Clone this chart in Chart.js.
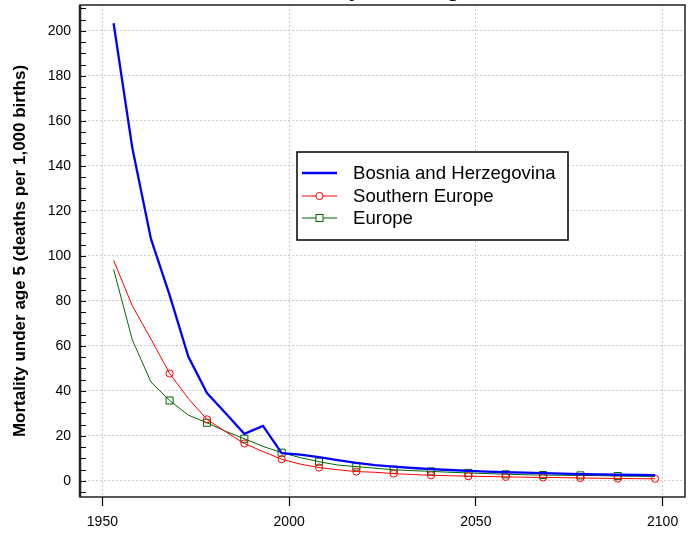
<!DOCTYPE html>
<html>
<head>
<meta charset="utf-8">
<script src="https://cdn.jsdelivr.net/npm/chart.js@4/dist/chart.umd.min.js"></script>
<style>
    html, body { margin: 0; padding: 0; background: #fff; }
    #wrap { width: 697px; height: 535px; overflow: hidden; position: relative; }
    #box { position: absolute; left: 0; top: -20px; width: 697px; height: 555px; }
</style>
</head>
<body>
<div id="wrap"><div id="box"><canvas id="graphCanvas"></canvas></div></div>
<script>
        // data (5-year periods)
        var years = [1953, 1958, 1963, 1968, 1973, 1978, 1983, 1988, 1993, 1998,
                     2003, 2008, 2013, 2018, 2023, 2028, 2033, 2038, 2043, 2048,
                     2053, 2058, 2063, 2068, 2073, 2078, 2083, 2088, 2093, 2098];

        var bosnia = [203.4, 148, 107.5, 82.5, 55.2, 39, 30, 20.9, 24.4, 12.3,
                      11.6, 10.5, 9.2, 8.0, 7.0, 6.3, 5.7, 5.2, 4.8, 4.4,
                      4.1, 3.8, 3.6, 3.4, 3.2, 3.0, 2.85, 2.7, 2.6, 2.5];

        var southernEurope = [98, 77.8, 63, 47.7, 36.6, 27.3, 21.8, 16.6, 13, 9.6,
                              7.4, 5.9, 4.9, 4.1, 3.8, 3.2, 2.8, 2.45, 2.25, 2.05,
                              1.9, 1.75, 1.6, 1.5, 1.4, 1.25, 1.15, 1.0, 0.95, 0.9];

        var europe = [94, 62.7, 43.9, 35.7, 29.2, 25.8, 22, 18.7, 15.3, 12.5,
                      10.3, 8.5, 7.0, 6.3, 5.6, 4.9, 4.5, 4.2, 3.8, 3.5,
                      3.2, 2.9, 2.7, 2.55, 2.45, 2.4, 2.3, 2.1, 2.0, 1.95];

        var seriesNames = ['Bosnia and Herzegovina', 'Southern Europe', 'Europe'];
        var xTicks = [1950, 2000, 2050, 2100];
        var yTicks = [0, 20, 40, 60, 80, 100, 120, 140, 160, 180, 200];

        var FONT = '"Liberation Sans", Arial, sans-serif';

        function toPoints(arr) {
            var pts = [];
            for (var i = 0; i < arr.length; i++) {
                pts.push({x: years[i], y: arr[i]});
            }
            return pts;
        }

        // markers every second period, like the original
        function markerRadius(r, last) {
            return function (c) {
                var i = c.dataIndex;
                return (i % 2 === 1 && i >= 3 && i <= last) ? r : 0;
            };
        }

        var extras = {
            id: 'extras',
            afterDraw: function (chart) {
                var ctx = chart.ctx;
                var a = chart.chartArea;
                var ys = chart.scales.y;
                ctx.save();

                // title, mostly cut off at the top
                ctx.fillStyle = '#000';
                ctx.font = 'bold 22px ' + FONT;
                ctx.textAlign = 'center';
                ctx.textBaseline = 'alphabetic';
                ctx.fillText('Mortality under age 5', 380, 16);

                // minor ticks pointing into the plot
                ctx.strokeStyle = '#000';
                ctx.lineWidth = 1;
                for (var v = -5; v <= 210; v += 5) {
                    var py = Math.round(ys.getPixelForValue(v)) + 0.5;
                    ctx.beginPath();
                    ctx.moveTo(a.left, py);
                    ctx.lineTo(a.left + 6, py);
                    ctx.stroke();
                }

                // frame
                ctx.strokeStyle = '#222';
                ctx.lineWidth = 1.5;
                ctx.strokeRect(a.left, a.top, a.right - a.left, a.bottom - a.top);
                ctx.lineWidth = 2.5;
                ctx.beginPath();
                ctx.moveTo(a.left, a.top);
                ctx.lineTo(a.left, a.bottom);
                ctx.stroke();

                // legend box inside the plot
                var lx = 297, ly = 172, lw = 271, lh = 88;
                ctx.fillStyle = '#fff';
                ctx.fillRect(lx, ly, lw, lh);
                ctx.strokeStyle = '#000';
                ctx.lineWidth = 1.5;
                ctx.strokeRect(lx, ly, lw, lh);

                var rows = [193, 216, 238];
                chart.data.datasets.forEach(function (ds, k) {
                    var ry = rows[k];
                    ctx.strokeStyle = ds.borderColor;
                    ctx.lineWidth = ds.borderWidth;
                    ctx.beginPath();
                    ctx.moveTo(302, ry);
                    ctx.lineTo(337, ry);
                    ctx.stroke();
                    ctx.lineWidth = 1;
                    if (ds.pointStyle === 'circle') {
                        ctx.fillStyle = '#fff';
                        ctx.beginPath();
                        ctx.arc(319.5, ry, 3.6, 0, Math.PI * 2);
                        ctx.fill();
                        ctx.stroke();
                    } else if (ds.pointStyle === 'rect') {
                        ctx.fillStyle = '#fff';
                        ctx.fillRect(316, ry - 3.5, 7, 7);
                        ctx.strokeRect(316, ry - 3.5, 7, 7);
                    }
                    ctx.fillStyle = '#000';
                    ctx.font = '18.6px ' + FONT;
                    ctx.textAlign = 'left';
                    ctx.textBaseline = 'middle';
                    ctx.fillText(ds.label, 353, ry + 1);
                });
                ctx.restore();
            }
        };

        var chartdata = {
            datasets: [
                {
                    label: seriesNames[0],
                    data: toPoints(bosnia),
                    borderColor: '#0000ff',
                    borderWidth: 2.3,
                    pointRadius: 0,
                    pointStyle: false
                },
                {
                    label: seriesNames[1],
                    data: toPoints(southernEurope),
                    borderColor: '#ff0000',
                    borderWidth: 1,
                    pointStyle: 'circle',
                    pointRadius: markerRadius(3.6, 29),
                    pointBorderColor: '#ff0000',
                    pointBackgroundColor: 'rgba(0,0,0,0)',
                    pointBorderWidth: 1
                },
                {
                    label: seriesNames[2],
                    data: toPoints(europe),
                    borderColor: '#006400',
                    borderWidth: 1,
                    pointStyle: 'rect',
                    pointRadius: markerRadius(5, 27),
                    pointBorderColor: '#006400',
                    pointBackgroundColor: 'rgba(0,0,0,0)',
                    pointBorderWidth: 1
                }
            ]
        };

        var graphTarget = document.getElementById('graphCanvas');

        var lineGraph = new Chart(graphTarget, {
            type: 'line',
            data: chartdata,
            plugins: [extras],
            options: {
                responsive: true,
                maintainAspectRatio: false,
                animation: false,
                layout: { padding: { top: 25, right: 12, left: 0, bottom: 0 } },
                elements: { line: { tension: 0 } },
                plugins: {
                    legend: { display: false },
                    tooltip: { enabled: false }
                },
                scales: {
                    x: {
                        type: 'linear',
                        min: 1944,
                        max: 2106,
                        afterBuildTicks: function (s) { s.ticks = xTicks.map(function (v) { return {value: v}; }); },
                        afterFit: function (s) { s.height = 38; },
                        grid: {
                            color: '#cccccc',
                            lineWidth: 1,
                            drawTicks: true,
                            tickLength: 9,
                            tickColor: '#000',
                            tickWidth: 1.2,
                            tickBorderDash: []
                        },
                        border: { display: false, dash: [2, 2] },
                        ticks: {
                            color: '#000',
                            font: { family: FONT, size: 14 },
                            padding: 8,
                            maxRotation: 0,
                            callback: function (v) { return String(v); }
                        }
                    },
                    y: {
                        min: -7.2,
                        max: 211.5,
                        afterBuildTicks: function (s) { s.ticks = yTicks.map(function (v) { return {value: v}; }); },
                        afterFit: function (s) { s.width = 80; },
                        grid: {
                            color: '#cccccc',
                            lineWidth: 1,
                            drawTicks: false
                        },
                        border: { display: false, dash: [2, 2] },
                        ticks: {
                            color: '#000',
                            font: { family: FONT, size: 14 },
                            padding: 9
                        },
                        title: {
                            display: true,
                            text: 'Mortality under age 5 (deaths per 1,000 births)',
                            color: '#000',
                            font: { family: FONT, size: 17, weight: 'bold' },
                            padding: { top: 10, bottom: 0 }
                        }
                    }
                }
            }
        });
</script>
</body>
</html>
